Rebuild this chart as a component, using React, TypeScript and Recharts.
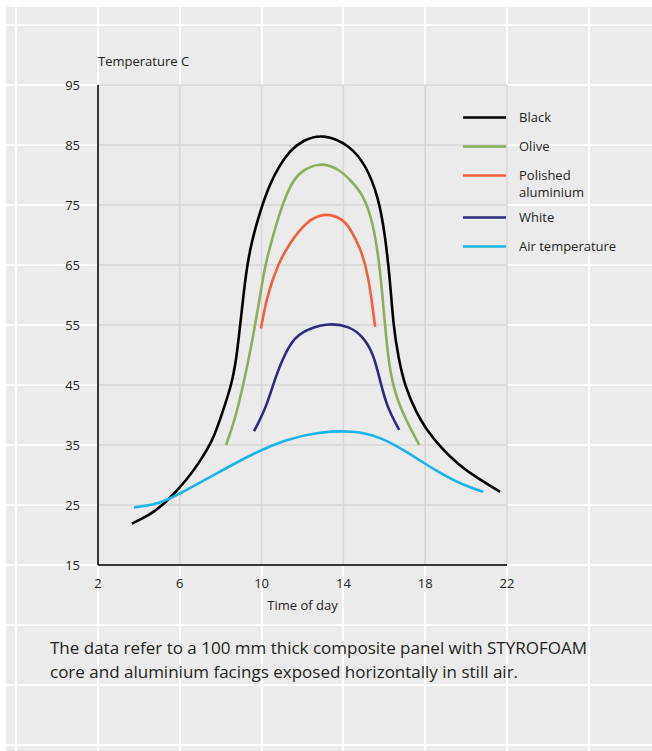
import React from 'react';
import { LineChart, Line, XAxis, YAxis, CartesianGrid, Legend } from 'recharts';

const xTicks = [2, 6, 10, 14, 18, 22];
const yTicks = [15, 25, 35, 45, 55, 65, 75, 85, 95];

const blackHours = [3.65, 4.13, 4.7, 5.52, 6.34, 7.0, 7.64, 7.97, 8.54, 8.78, 8.94, 9.1, 9.27, 9.52, 9.92, 10.41, 10.9, 11.35, 12, 13, 14.32, 15.14, 15.7, 16.03, 16.28, 16.44, 16.68, 17.01, 17.58, 18.0, 18.72, 19.7, 20.5, 21.66];
const blackTemps = [21.9, 22.7, 23.7, 26.1, 29.2, 32.3, 36.0, 39.3, 45.0, 49.7, 54.7, 59.5, 64.5, 69.0, 73.9, 78.6, 81.7, 83.9, 85.8, 86.9, 85.0, 81.4, 76.4, 70.3, 62.5, 55.0, 49.7, 44.7, 40.3, 37.9, 34.7, 31.5, 29.6, 27.2];

const oliveHours = [8.26, 8.7, 9.1, 9.43, 9.68, 9.92, 10.17, 10.57, 10.9, 11.39, 11.88, 12.86, 13.83, 14.32, 14.97, 15.46, 15.79, 16.03, 16.28, 16.77, 17.71];
const oliveTemps = [35.0, 39.2, 45.0, 50.3, 55.0, 59.7, 65.0, 70.0, 73.9, 78.3, 80.6, 82.2, 80.9, 79.2, 76.8, 72.0, 64.7, 55.0, 46.5, 41.0, 35.0];

const alumHours = [9.97, 10.25, 10.8, 11.4, 12.2, 13.1, 14.0, 14.32, 14.81, 15.22, 15.55];
const alumTemps = [54.4, 59.7, 65.2, 68.8, 72.3, 73.8, 72.6, 71.1, 68.0, 63.6, 54.7];

const whiteHours = [9.63, 10.25, 10.73, 11.35, 11.88, 13.18, 14.32, 14.97, 15.46, 15.79, 16.12, 16.73];
const whiteTemps = [37.3, 41.4, 47.0, 51.7, 53.8, 55.4, 54.8, 53.0, 50.3, 45.8, 41.4, 37.5];

const airHours = [3.76, 4.71, 5.36, 6.34, 7.97, 9.6, 11.22, 12.86, 14.49, 15.79, 17.09, 18.56, 19.86, 20.84];
const airTemps = [24.6, 25.0, 25.8, 27.5, 30.6, 33.6, 36.0, 37.2, 37.4, 36.4, 33.9, 30.6, 28.3, 27.2];

const seriesNames = ['Black', 'Olive', 'Polished\naluminium', 'White', 'Air temperature'];
const seriesColors = ['#000000', '#8aae5c', '#f2603e', '#2e2a7e', '#1bb4e9'];
const seriesHours = [blackHours, oliveHours, alumHours, whiteHours, airHours];
const seriesTemps = [blackTemps, oliveTemps, alumTemps, whiteTemps, airTemps];

const toRows = (hs: number[], ts: number[]) => hs.map((h, i) => ({ x: h, y: ts[i] }));

const FONT = '"Open Sans", "Noto Sans", sans-serif';
const TEXT = '#231f20';

const LegendBox = () => (
  <div style={{ fontFamily: FONT, fontSize: 13, color: TEXT }}>
    {seriesNames.map((name, i) => (
      <div key={name} style={{ display: 'flex', alignItems: 'flex-start', marginBottom: name.includes('\n') ? 8.5 : 12 }}>
        <svg width={43} height={17} style={{ flex: 'none' }}>
          <line x1={0} x2={43} y1={8.5} y2={8.5} stroke={seriesColors[i]} strokeWidth={2.6} />
        </svg>
        <div style={{ marginLeft: 13, lineHeight: '17px', whiteSpace: 'pre' }}>{name}</div>
      </div>
    ))}
  </div>
);

export default function App() {
  return (
    <div style={{ position: 'absolute', left: 0, top: 0, width: 652, height: 751, background: '#ffffff', overflow: 'hidden' }}>
      <div
        style={{
          position: 'absolute',
          left: 6,
          top: 7,
          width: 646,
          height: 744,
          backgroundColor: '#ebebeb',
          backgroundImage:
            'repeating-linear-gradient(to right, transparent 0px, transparent 9.2px, #ffffff 9.2px, #ffffff 11.2px, transparent 11.2px, transparent 81.8px), repeating-linear-gradient(to bottom, transparent 0px, transparent 17px, #ffffff 17px, #ffffff 19px, transparent 19px, transparent 60px)',
        }}
      />
      <div style={{ position: 'absolute', left: 0, top: 0 }}>
        <LineChart
          width={652}
          height={751}
          margin={{ top: 85, right: 145, bottom: 126, left: 38 }}
          style={{ fontFamily: FONT }}
        >
          <CartesianGrid stroke="#d6d6d6" strokeWidth={1.5} fill="#ebebeb" fillOpacity={1} />
          <XAxis
            dataKey="x"
            type="number"
            domain={[2, 22]}
            ticks={xTicks}
            allowDataOverflow
            height={60}
            tickLine={false}
            tickSize={0}
            tickMargin={14}
            axisLine={{ stroke: '#000', strokeWidth: 1.5 }}
            tick={{ fill: TEXT, fontSize: 13 }}
            label={{
              content: (props: any) => {
                const vb = props.viewBox;
                return (
                  <text x={vb.x + vb.width / 2} y={vb.y + 45} textAnchor="middle" fill={TEXT} fontSize={13} fontFamily={FONT}>
                    Time of day
                  </text>
                );
              },
            }}
          />
          <YAxis
            type="number"
            domain={[15, 95]}
            ticks={yTicks}
            width={60}
            tickLine={false}
            tickSize={0}
            tickMargin={18}
            axisLine={{ stroke: '#000', strokeWidth: 1.5 }}
            tick={{ fill: TEXT, fontSize: 13 }}
            label={{
              content: (props: any) => {
                const vb = props.viewBox;
                return (
                  <text x={vb.x + vb.width} y={vb.y - 19.5} textAnchor="start" fill={TEXT} fontSize={13} fontFamily={FONT}>
                    Temperature C
                  </text>
                );
              },
            }}
          />
          <Legend
            layout="horizontal"
            verticalAlign="middle"
            align="center"
            wrapperStyle={{ left: 463, top: 108.5, width: 189 }}
            content={() => <LegendBox />}
          />
          {seriesNames.map((name, i) => (
            <Line
              key={name}
              name={name}
              data={toRows(seriesHours[i], seriesTemps[i])}
              dataKey="y"
              type="basis"
              stroke={seriesColors[i]}
              strokeWidth={2.6}
              dot={false}
              activeDot={false}
              isAnimationActive={false}
            />
          ))}
        </LineChart>
      </div>
      <div
        style={{
          position: 'absolute',
          left: 50,
          top: 636,
          fontFamily: FONT,
          fontSize: 17,
          lineHeight: '23.5px',
          color: TEXT,
          whiteSpace: 'nowrap',
        }}
      >
        The data refer to a 100 mm thick composite panel with STYROFOAM
        <br />
        core and aluminium facings exposed horizontally in still air.
      </div>
    </div>
  );
}
